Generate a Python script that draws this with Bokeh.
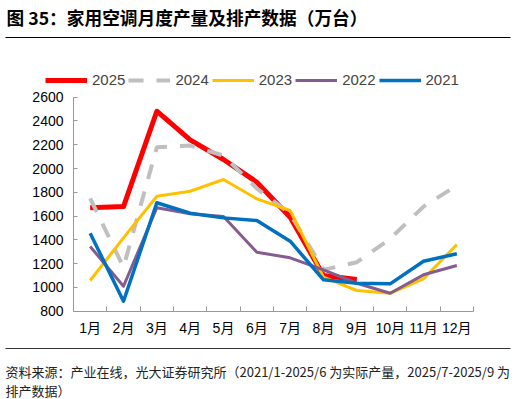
from bokeh.plotting import figure
from bokeh.models import Range1d, FixedTicker, Legend, LegendItem, Label, BoxAnnotation
from bokeh.embed import file_html
from bokeh.resources import INLINE

months = [1, 2, 3, 4, 5, 6, 7, 8, 9, 10, 11, 12]
month_labels = ["1月", "2月", "3月", "4月", "5月", "6月", "7月", "8月", "9月", "10月", "11月", "12月"]
y_ticks = [800, 1000, 1200, 1400, 1600, 1800, 2000, 2200, 2400, 2600]

y2025 = [1670, 1680, 2482, 2241, 2076, 1885, 1590, 1100, 1067]
y2024 = [1748, 1170, 2179, 2193, 2109, 1832, 1620, 1148, 1212, 1409, 1680, 1857]
y2023 = [1058, 1417, 1767, 1809, 1908, 1745, 1647, 1086, 974, 951, 1072, 1361]
y2022 = [1344, 1010, 1670, 1619, 1596, 1296, 1249, 1148, 1035, 951, 1106, 1184]
y2021 = [1456, 884, 1712, 1624, 1585, 1563, 1389, 1064, 1035, 1030, 1220, 1283]

title_text = "图 35：家用空调月度产量及排产数据（万台）"
source_line1 = "资料来源：产业在线，光大证券研究所（2021/1-2025/6 为实际产量，2025/7-2025/9 为"
source_line2 = "排产数据）"

# canvas / plot-area geometry (pixels)
W, H = 515, 399
AX_L, AX_R = 73.0, 473.0      # pixel x of the x-axis ends
AX_T, AX_B = 96.7, 310.7      # pixel y of the y-axis ends
x0, x1 = 0.5, 12.5
y0, y1 = 800, 2600
xs = (AX_R - AX_L) / (x1 - x0)
ys = (AX_B - AX_T) / (y1 - y0)
x_range = Range1d(x0 - AX_L / xs, x1 + (W - AX_R) / xs)
y_range = Range1d(y0 - (H - AX_B) / ys, y1 + AX_T / ys)

p = figure(width=W, height=H, output_backend="svg", toolbar_location=None,
           x_range=x_range, y_range=y_range,
           min_border_left=0, min_border_right=0, min_border_top=0, min_border_bottom=0)
p.title.visible = False
p.outline_line_color = None
p.xgrid.visible = False
p.ygrid.visible = False
p.background_fill_color = "white"
p.border_fill_color = "white"

axis_col = "#999999"
lab_font = "Liberation Sans, Noto Sans CJK SC"

xa = p.xaxis[0]
xa.fixed_location = y0
xa.bounds = (x0, x1)
xa.ticker = FixedTicker(ticks=months, minor_ticks=[m - 0.5 for m in months] + [12.5])
xa.major_label_overrides = {m: l for m, l in zip(months, month_labels)}
xa.major_tick_in = 0
xa.major_tick_out = 0
xa.minor_tick_in = 5
xa.minor_tick_out = 0
xa.minor_tick_line_color = axis_col
xa.axis_line_color = axis_col
xa.major_label_standoff = 9
xa.major_label_text_font = lab_font
xa.major_label_text_font_size = "14px"
xa.major_label_text_color = "black"

ya = p.yaxis[0]
ya.fixed_location = x0
ya.bounds = (y0, y1)
ya.ticker = FixedTicker(ticks=y_ticks)
ya.major_tick_in = 4
ya.major_tick_out = 0
ya.minor_tick_line_color = None
ya.major_tick_line_color = axis_col
ya.axis_line_color = axis_col
ya.major_label_standoff = 10
ya.major_label_text_font = lab_font
ya.major_label_text_font_size = "14px"
ya.major_label_text_color = "black"

r25 = p.line(months[:len(y2025)], y2025, line_color="#FF0000", line_width=5, line_join="round")
r24 = p.line(months, y2024, line_color="#BFBFBF", line_width=4, line_dash="15 13")
r23 = p.line(months, y2023, line_color="#FFC000", line_width=3, line_join="round")
r22 = p.line(months, y2022, line_color="#845C8F", line_width=3, line_join="round")
r21 = p.line(months, y2021, line_color="#0070C0", line_width=3.5, line_join="round")

legend = Legend(items=[LegendItem(label="2025", renderers=[r25]),
                       LegendItem(label="2024", renderers=[r24]),
                       LegendItem(label="2023", renderers=[r23]),
                       LegendItem(label="2022", renderers=[r22]),
                       LegendItem(label="2021", renderers=[r21])],
                orientation="horizontal", location=(45, H - 88),
                glyph_width=42, glyph_height=16, label_height=16, label_standoff=5, spacing=3,
                padding=0, margin=0, border_line_color=None, background_fill_alpha=0,
                label_text_font="Liberation Sans", label_text_font_size="15px")
p.add_layout(legend, "center")

def hrule(y_px, color):
    return BoxAnnotation(left=5, right=510, bottom=H - y_px - 0.5, top=H - y_px + 0.5,
                         left_units="screen", right_units="screen",
                         top_units="screen", bottom_units="screen",
                         fill_color=color, fill_alpha=1, line_color=None)

p.add_layout(Label(x=6, y=H - 16.5, x_units="screen", y_units="screen", text=title_text,
                   text_font="Noto Sans CJK SC", text_font_style="bold", text_font_size="17.7px",
                   text_baseline="middle", text_color="black"))
p.add_layout(hrule(37, "#000000"))
p.add_layout(hrule(348, "#333333"))
p.add_layout(Label(x=5, y=H - 370.5, x_units="screen", y_units="screen", text=source_line1,
                   text_font="Noto Sans CJK SC", text_font_size="13px",
                   text_baseline="middle", text_color="#222222"))
p.add_layout(Label(x=5, y=H - 390, x_units="screen", y_units="screen", text=source_line2,
                   text_font="Noto Sans CJK SC", text_font_size="13px",
                   text_baseline="middle", text_color="#222222"))

open("out.html", "w").write(file_html(p, INLINE))
